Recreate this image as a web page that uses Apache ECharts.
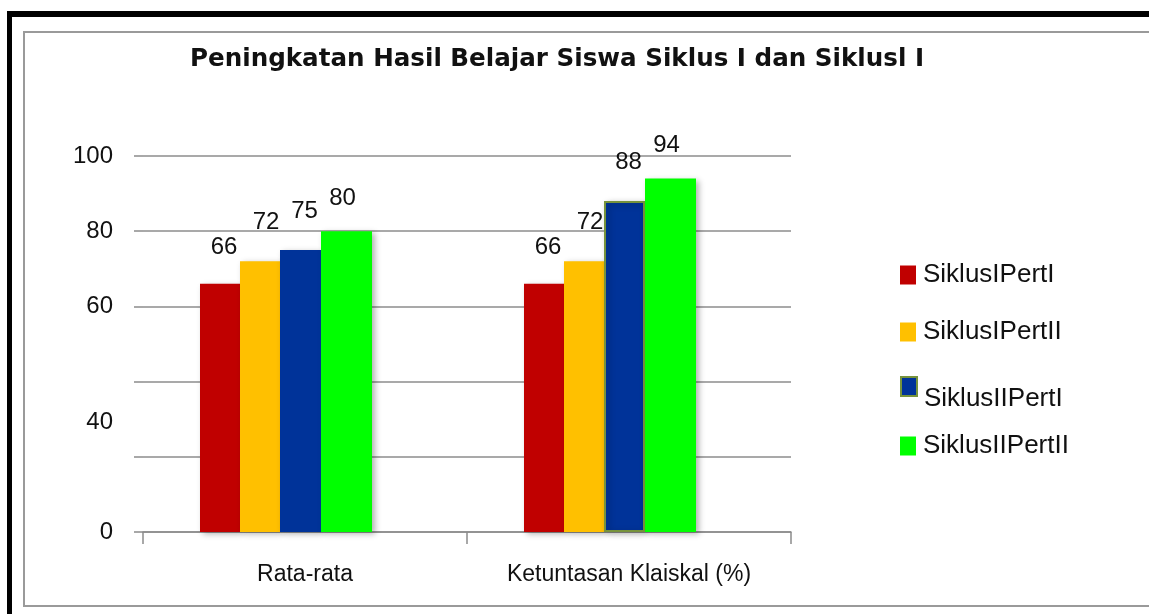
<!DOCTYPE html>
<html>
<head>
<meta charset="utf-8">
<script src="https://cdn.jsdelivr.net/npm/echarts@6/dist/echarts.min.js"></script>
<style>
  html, body { margin: 0; padding: 0; background: #fff; }
  #main { width: 1149px; height: 614px; }
</style>
</head>
<body>
<div id="main"></div>
<script>
const categories = ['Rata-rata', 'Ketuntasan Klaiskal (%)']
const seriesNames = ['SiklusIPertI', 'SiklusIPertII', 'SiklusIIPertI', 'SiklusIIPertII']
const siklusIPertI = [66, 66]
const siklusIPertII = [72, 72]
const siklusIIPertI = [75, 88]
const siklusIIPertII = [80, 94]
const yTicks = [0, 20, 40, 60, 80, 100]

const colors = ['#C00000', '#FFC000', '#003399', '#00FF00']
const barWidths = [40, 40, 41, 51]
// label tweaks per series: [distance, offsetX]
const labelTweaks = [[24, 4], [27, 6], [27, 4], [21, -4]]
const shadow = {
  shadowColor: 'rgba(0,0,0,0.3)',
  shadowBlur: 6,
  shadowOffsetX: 3,
  shadowOffsetY: 2
}

const myChart = echarts.init(document.getElementById('main'))

const values = [siklusIPertI, siklusIPertII, siklusIIPertI, siklusIIPertII]
const series = values.map((v, i) => ({
  name: seriesNames[i],
  type: 'bar',
  barWidth: barWidths[i],
  barGap: '0%',
  itemStyle: Object.assign({ color: colors[i] }, shadow,
    i === 2 ? { borderColor: '#77933C', borderWidth: 2 } : {}),
  data: v.map((d, j) => (i === 2 && j === 0) ? { value: d, itemStyle: { borderWidth: 0 } } : d),
  label: {
    show: true,
    position: 'top',
    distance: labelTweaks[i][0],
    offset: [labelTweaks[i][1], 0],
    fontFamily: 'Liberation Sans',
    fontSize: 24,
    color: '#111'
  }
}))
// empty spacer so the group sits left of the category centre
series.push({
  name: 'spacer',
  type: 'bar',
  barWidth: 38,
  barGap: '0%',
  itemStyle: { color: 'rgba(0,0,0,0)' },
  data: ['-', '-']
})

const legendTops = [272, 329, 386, 443]
const legends = seriesNames.map((n, i) => ({
  data: [n],
  left: 900,
  top: legendTops[i] - 10,
  icon: 'rect',
  itemWidth: 16,
  itemHeight: 19,
  padding: 0,
  selectedMode: false,
  formatter: i === 2 ? '{low|{name}}' : '{name}',
  textStyle: {
    fontFamily: 'Liberation Sans',
    fontSize: 26,
    color: '#111',
    padding: [0, 0, 0, 2],
    rich: {
      low: { fontFamily: 'Liberation Sans', fontSize: 26, color: '#111', padding: [24, 0, 0, 0] }
    }
  }
}))

const option = {
  animation: false,
  title: {
    text: 'Peningkatan Hasil Belajar Siswa Siklus I dan Siklusl I',
    left: 190,
    top: 47,
    padding: 0,
    textStyle: {
      fontFamily: 'DejaVu Sans',
      fontWeight: 'bold',
      fontSize: 24.6,
      color: '#111'
    }
  },
  legend: legends,
  grid: { left: 143, right: 358, top: 156, bottom: 82 },
  xAxis: {
    type: 'category',
    data: categories,
    axisLine: { lineStyle: { color: '#8c8c8c', width: 1.5 } },
    axisTick: { show: true, length: 12, lineStyle: { color: '#8c8c8c', width: 1.5 } },
    axisLabel: {
      margin: 31,
      fontFamily: 'Liberation Sans',
      fontSize: 23,
      color: '#111'
    }
  },
  yAxis: {
    type: 'value',
    min: yTicks[0],
    max: yTicks[yTicks.length - 1],
    interval: 20,
    axisLine: { show: false },
    axisTick: { show: true, length: 9, lineStyle: { color: '#8c8c8c', width: 1.5 } },
    splitLine: { lineStyle: { color: '#8c8c8c', width: 1.5 } },
    axisLabel: {
      margin: 30,
      fontFamily: 'Liberation Sans',
      fontSize: 24,
      color: '#111',
      formatter: v => {
        if (v === 20) return ''
        if (v === 40) return '{low|40}'
        return String(v)
      },
      rich: {
        low: { fontFamily: 'Liberation Sans', fontSize: 24, color: '#111', padding: [82, 0, 0, 0] }
      }
    }
  },
  graphic: [
    { type: 'rect', shape: { x: 7, y: 11, width: 5, height: 603 }, style: { fill: '#000' } },
    { type: 'rect', shape: { x: 7, y: 11, width: 1142, height: 6 }, style: { fill: '#000' } },
    { type: 'rect', shape: { x: 24, y: 32, width: 1140, height: 574 }, style: { fill: 'none', stroke: '#9a9a9a', lineWidth: 2 } }
  ],
  series: series
}
myChart.setOption(option)
</script>
</body>
</html>
